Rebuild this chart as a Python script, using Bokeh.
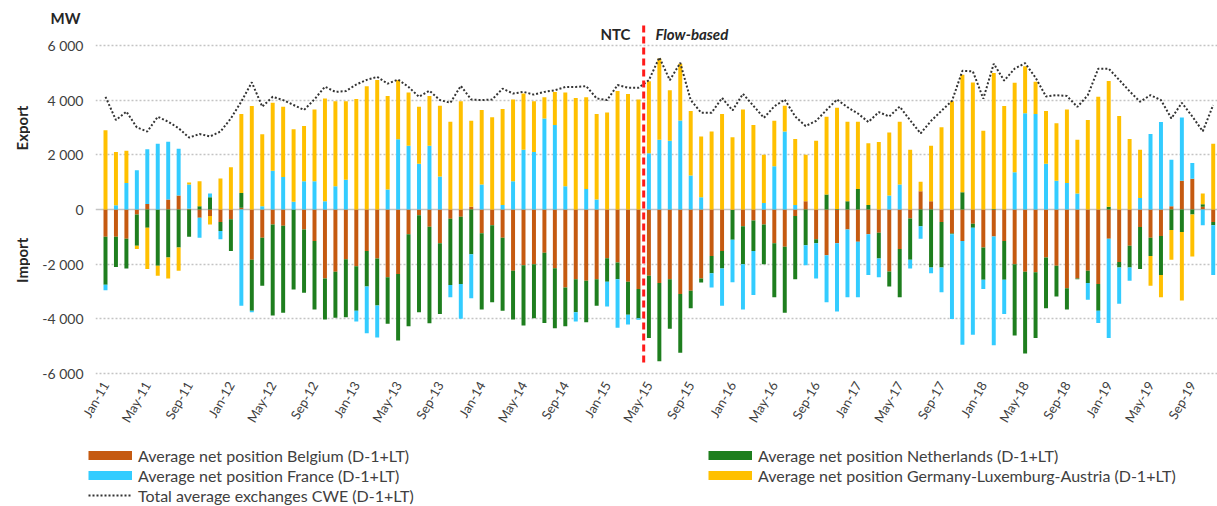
import math
import numpy as np
from bokeh.plotting import figure
from bokeh.layouts import column, row
from bokeh.models import (ColumnDataSource, Range1d, FixedTicker, CustomJSTickFormatter,
                          Span, Label, Legend, LegendItem)
from bokeh.embed import file_html
from bokeh.resources import INLINE

# ---------------- data ----------------
YEARS = ["11", "12", "13", "14", "15", "16", "17", "18", "19"]
MONTH_ABBR = ["Jan", "Feb", "Mar", "Apr", "May", "Jun", "Jul", "Aug", "Sep", "Oct", "Nov", "Dec"]
N_MONTHS = 107  # Jan-11 .. Nov-19
MONTHS = [f"{m}-{y}" for y in YEARS for m in MONTH_ABBR][:N_MONTHS]

BELGIUM = [-1000, -1000, -1070, -180, 200, 0, 360, 510, 30, -300, -240, -460,
           -360, 60, -1840, -1030, -550, -600, 0, -730, -1150, -2520, -2280, -1820,
           -2080, -1520, -1790, -2480, -2360, -910, -210, -630, -1240, -340, -270, 100,
           -870, -580, -1030, -2240, -2040, -2000, -1580, -2150, -2850, -2550, -2610, -2550,
           -1780, -1940, -2640, -2910, -2420, -2690, -2550, -3090, -2970, -2520, -1700, -1520,
           -20, -610, -400, -550, -1240, -1360, -240, 300, -1090, -1670, -1240, -730,
           -1180, -910, -850, -2270, -1450, -330, 670, 300, -460, -880, -1150, -520,
           -1390, -990, -1150, -2000, -2280, -2300, -1760, -2060, -2880, -2520, -2240, -2730,
           -1070, -1920, -1330, -640, -1030, -970, 120, 1050, 1120, 100, -460]

NETHERLANDS = [-1750, -1100, -1090, -1150, -670, -2060, -1760, -1390, -1000, 120, 450, -330,
               -1160, 540, -1860, -1760, -3330, -3180, -2930, -2320, -2510, -1500, -1680, -2120,
               -1620, -1300, -1720, -1700, -2430, -3360, -3550, -3530, -2580, -2420, -2460, -1640,
               -2790, -2810, -2670, -1780, -2200, -1980, -2570, -2190, -1420, -1210, -1510, -970,
               -860, -610, -1210, -1070, -2280, -2860, -1810, -2150, -640, -150, -630, -640,
               -1090, -1390, -1120, -1450, -1970, -2420, -2310, -1310, -150, 550, 20, 300,
               750, 160, -940, -550, -1760, -1510, -610, -2120, -1660, -30, 630, -150,
               -1180, 20, -1420, -2610, -2990, -2400, -1850, -1120, -780, -30, -450, -970,
               100, -200, -790, -1540, -670, -1430, -750, -820, -180, 90, -120]

FRANCE = [-200, 150, 970, 1430, 2000, 2400, 2120, 1710, 880, -730, 130, -300,
          0, -3520, -60, 120, 1420, 1190, 280, 1030, 1030, 300, 850, 1090,
          -400, -1710, -1170, 730, 2570, 2330, 1670, 2330, 1210, -450, -1270, -1610,
          910, 0, 160, 1030, 2180, 2100, 3330, 3090, 850, -340, 750, 360,
          -910, -1780, -360, -50, 2060, 2550, 2510, 3250, 1240, 450, -520, -1360,
          -1550, -1660, -1610, 240, 1580, 2850, 160, -730, -1280, -1720, -2490, -2480,
          -2030, -1490, -690, 510, 910, -320, -460, -210, -910, -3100, -3800, -3910,
          -340, -3980, -1250, 1360, 3520, 3490, 1670, 1050, 970, 580, -610, -450,
          -3630, -1330, -490, 420, 2760, 3200, 1700, 2310, 580, -580, -1820]

GERMANY = [2900, 1950, 1180, -120, -1510, -360, -760, -850, 80, 910, -310, 1130,
           1540, 2890, 3780, 2630, 2480, 2570, 2650, 2020, 2630, 3760, 3110, 2870,
           4040, 4510, 4730, 3420, 2160, 1950, 2090, 1820, 2580, 3210, 3960, 3140,
           2730, 3370, 3510, 2990, 2060, 1860, 770, 1210, 3430, 4080, 3350, 3130,
           3550, 4330, 4220, 4020, 2630, 2970, 1850, 2080, 2360, 2220, 2850, 3490,
           2640, 3660, 3090, 1760, 1660, 940, 2420, 1700, 2510, 2840, 3700, 2910,
           2460, 2260, 2470, 2300, 2300, 2180, 340, 2030, 3010, 3960, 4300, 4640,
           2880, 4970, 3780, 3270, 1720, 1180, 1930, 2100, 2690, 1970, 3270, 4120,
           4600, 3420, 2580, 1760, -1090, -810, -1090, -2510, -1540, 390, 2400]

TOTAL = [4120, 3270, 3580, 3000, 2850, 3390, 3210, 2970, 2630, 2760, 2670, 2850,
         3330, 3950, 4650, 3760, 4120, 4000, 3820, 3640, 4030, 4490, 4300, 4330,
         4570, 4740, 4850, 4600, 4750, 4480, 4120, 4340, 4000, 3900, 4520, 4020,
         4000, 4020, 4420, 4240, 4300, 4200, 4300, 4360, 4480, 4480, 4510, 4060,
         4000, 4550, 4450, 4450, 4730, 5560, 4730, 5360, 4000, 3540, 3540, 4080,
         3620, 4230, 3790, 3350, 3770, 4020, 3400, 3050, 3240, 3640, 4020, 3740,
         3510, 3200, 3560, 3400, 3760, 3260, 2780, 3240, 3610, 3970, 5070, 5050,
         4050, 5330, 4710, 5150, 5350, 4820, 4130, 4180, 4150, 3750, 4180, 5150,
         5150, 4740, 4320, 3940, 4180, 4000, 3330, 3900, 3400, 2860, 3820]

SERIES_NAMES = ["Average net position Belgium (D-1+LT)",
                "Average net position Netherlands (D-1+LT)",
                "Average net position France (D-1+LT)",
                "Average net position Germany-Luxemburg-Austria (D-1+LT)"]
TOTAL_NAME = "Total average exchanges CWE (D-1+LT)"
Y_TICKS = [-6000, -4000, -2000, 0, 2000, 4000, 6000]
X_TICKS = list(range(0, N_MONTHS, 4))
SWITCH_INDEX = 51.5          # between Apr-15 and May-15

# ---------------- styling ----------------
COLORS = ["#C55A11", "#1E7E1E", "#33CCFF", "#FFC000"]
FONT = "Lato"
TXT = "#404040"
DARK = "#262626"

x = np.arange(N_MONTHS)

LEFT_W = 30
P_W, P_H = 1217 - LEFT_W, 432
LEG_H = 506 - P_H

p = figure(width=P_W, height=P_H,
           x_range=Range1d(-0.957, 106.41), y_range=Range1d(-6218, 6764),
           output_backend="svg", toolbar_location=None,
           min_border_left=95 - LEFT_W, min_border_right=0, min_border_top=24, min_border_bottom=51)

p.outline_line_color = None
p.xgrid.visible = False
p.ygrid.ticker = FixedTicker(ticks=[t for t in Y_TICKS if t != 0])
p.ygrid.grid_line_color = "#c4c4c4"
p.ygrid.grid_line_dash = "2 2"
p.ygrid.grid_line_width = 1.5
p.add_layout(Span(location=0, dimension="width", line_color="#c4c4c4", line_width=1.5, level="underlay"))

# title used as the unit label "MW"
p.title.text = "MW"
p.title.align = "left"
p.title.offset = -45
p.title.standoff = -4
p.title.text_font = FONT
p.title.text_font_style = "bold"
p.title.text_font_size = "15px"
p.title.text_color = DARK

# y axis
p.yaxis.ticker = FixedTicker(ticks=Y_TICKS)
p.yaxis.formatter = CustomJSTickFormatter(
    code=r"return tick.toFixed(0).replace(/\B(?=(\d{3})+(?!\d))/g, ' ');")
p.yaxis.axis_line_color = None
p.yaxis.major_tick_line_color = None
p.yaxis.minor_tick_line_color = None
p.yaxis.major_tick_out = 0
p.yaxis.major_label_standoff = 12
p.yaxis.major_label_text_font = FONT
p.yaxis.major_label_text_font_size = "14px"
p.yaxis.major_label_text_color = TXT

# x axis
p.xaxis.ticker = FixedTicker(ticks=X_TICKS)
p.xaxis.formatter = CustomJSTickFormatter(
    args=dict(labels=MONTHS),
    code="const i = Math.round(tick); return (i >= 0 && i < labels.length) ? labels[i] : '';")
p.xaxis.axis_line_color = None
p.xaxis.major_tick_line_color = None
p.xaxis.minor_tick_line_color = None
p.xaxis.major_tick_out = 0
p.xaxis.major_label_standoff = 3
p.xaxis.major_label_orientation = math.pi / 3
p.xaxis.major_label_text_font = FONT
p.xaxis.major_label_text_font_size = "13px"
p.xaxis.major_label_text_color = TXT

# stacked bars (positives stack up, negatives stack down, in series order)
pos = np.zeros(N_MONTHS)
neg = np.zeros(N_MONTHS)
for vals, color in zip([BELGIUM, NETHERLANDS, FRANCE, GERMANY], COLORS):
    v = np.array(vals, dtype=float)
    bottom = np.where(v >= 0, pos, neg)
    top = bottom + v
    pos = np.where(v >= 0, pos + v, pos)
    neg = np.where(v < 0, neg + v, neg)
    src = ColumnDataSource(dict(x=x, bottom=bottom, top=top))
    p.vbar(x="x", bottom="bottom", top="top", width=0.38, source=src,
           fill_color=color, line_color=None)

# total line
p.line(x, TOTAL, line_color="#333333", line_width=2, line_dash="2 2")

# switch line NTC -> flow-based
SWITCH_TOP, SWITCH_BOTTOM = 6730, -5700
p.segment(x0=[SWITCH_INDEX], y0=[SWITCH_TOP], x1=[SWITCH_INDEX], y1=[SWITCH_BOTTOM],
          line_color="#FF1A1A", line_width=3, line_dash="7 4")
p.add_layout(Label(x=SWITCH_INDEX - 1.26, y=6400, text="NTC", text_align="right",
                   text_baseline="middle", text_font=FONT, text_font_style="bold",
                   text_font_size="15px", text_color=DARK))
p.add_layout(Label(x=SWITCH_INDEX + 1.13, y=6400, text="Flow-based", text_align="left",
                   text_baseline="middle", text_font=FONT, text_font_style="bold italic",
                   text_font_size="15px", text_color=DARK))

# left strip with "Export" / "Import"
left = figure(width=LEFT_W, height=P_H, x_range=Range1d(0, LEFT_W), y_range=Range1d(0, P_H),
              x_axis_type=None, y_axis_type=None, output_backend="svg", toolbar_location=None,
              min_border=0)
left.outline_line_color = None
for txt, ypix in [("Export", 126), ("Import", 287)]:
    left.add_layout(Label(x=21, y=P_H - ypix, text=txt, angle=math.pi / 2, text_align="center",
                          text_baseline="middle", text_font=FONT, text_font_style="bold",
                          text_font_size="15px", text_color=DARK))

# legend strip (proxy renderers hold points outside the visible range)
leg = figure(width=1217, height=LEG_H, x_range=Range1d(0, 1), y_range=Range1d(0, 1),
             x_axis_type=None, y_axis_type=None, output_backend="svg", toolbar_location=None,
             min_border=0)
leg.outline_line_color = None
HIDDEN = [5, 6]
proxies = [leg.line(HIDDEN, HIDDEN, line_color=c, line_width=9) for c in COLORS]
total_proxy = leg.line(HIDDEN, HIDDEN, line_color="#333333", line_width=2, line_dash="2 2")


def make_legend(items, loc):
    return Legend(items=items, location=loc, orientation="vertical",
                  glyph_width=44, glyph_height=20, label_height=20, spacing=0,
                  padding=0, margin=0, label_standoff=6,
                  label_text_font=FONT, label_text_font_size="16px", label_text_color=TXT,
                  background_fill_alpha=0, border_line_color=None)


leg.add_layout(make_legend([LegendItem(label=SERIES_NAMES[0], renderers=[proxies[0]]),
                            LegendItem(label=SERIES_NAMES[2], renderers=[proxies[2]]),
                            LegendItem(label=TOTAL_NAME, renderers=[total_proxy])], (88, 1)))
leg.add_layout(make_legend([LegendItem(label=SERIES_NAMES[1], renderers=[proxies[1]]),
                            LegendItem(label=SERIES_NAMES[3], renderers=[proxies[3]])], (708, 21)))

layout = column(row(left, p), leg)
open("out.html", "w").write(file_html(layout, INLINE))
